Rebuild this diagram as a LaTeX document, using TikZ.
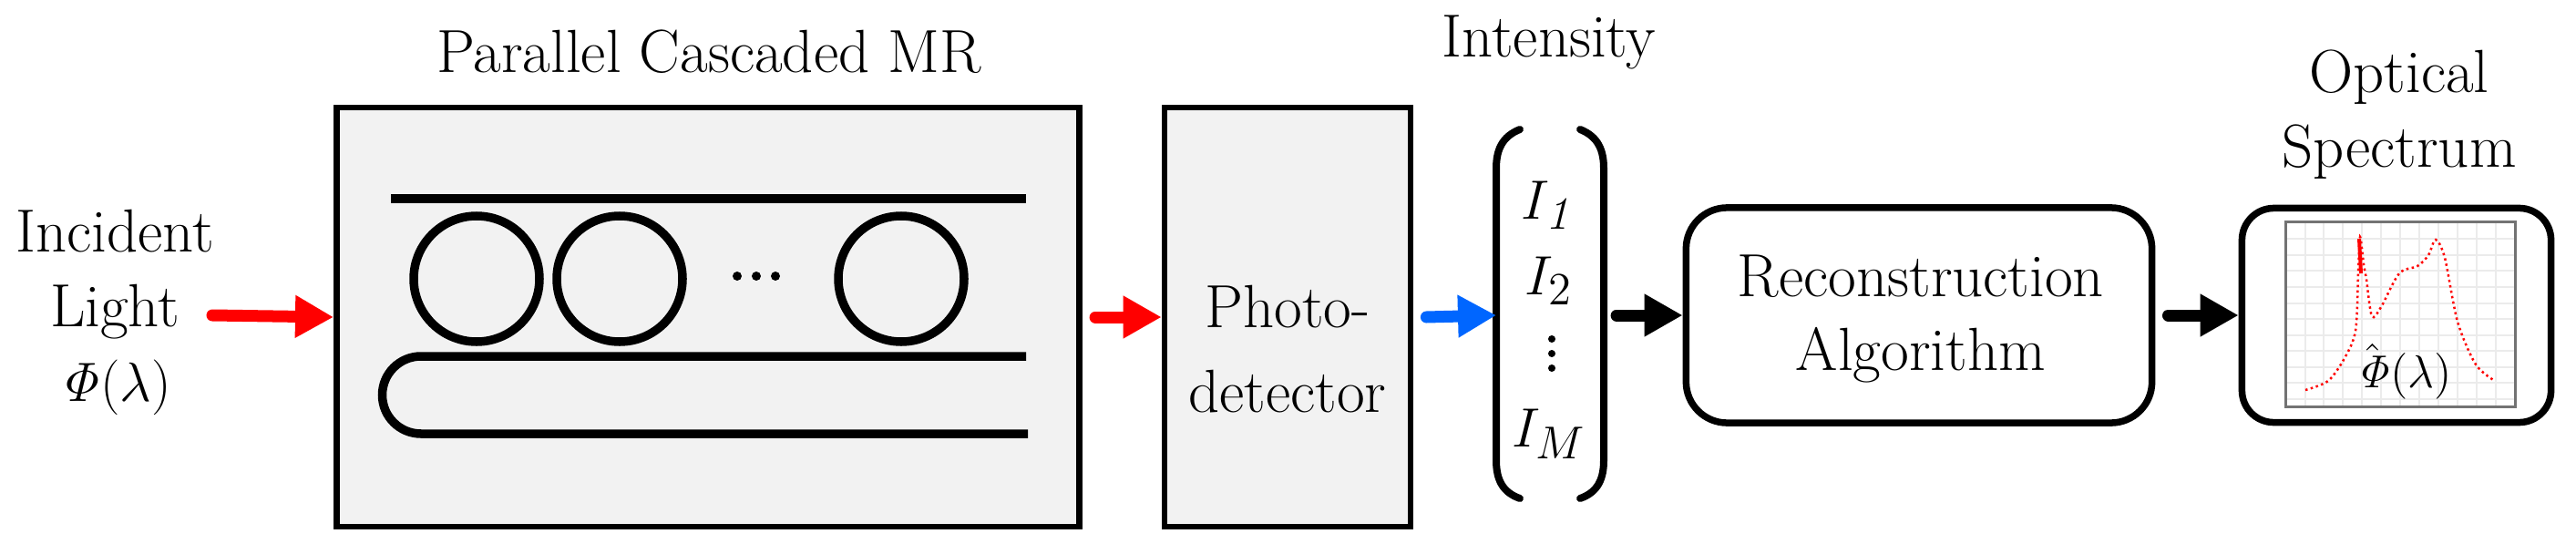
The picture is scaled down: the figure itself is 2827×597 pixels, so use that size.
\documentclass[tikz,border=0pt]{standalone}
\usetikzlibrary{arrows.meta}
\definecolor{boxgray}{RGB}{242,242,242}
\definecolor{myblue}{RGB}{0,102,255}
\begin{document}
\begin{tikzpicture}[x=0.01cm,y=-0.01cm,
  txt/.style={font=\fontsize{19}{23}\selectfont,inner sep=0pt,align=center},
  gbox/.style={draw,line width=0.065cm,fill=boxgray,inner sep=0pt},
  rbox/.style={draw,line width=0.075cm,rounded corners=0.45cm,inner sep=0pt},
  wg/.style={line width=0.095cm},
  arr/.style={line width=0.13cm,line cap=round,-{Triangle[length=0.42cm,width=0.44cm]}}]
\useasboundingbox (0,0) rectangle (2827,597);
% boxes
\node[gbox,minimum width=8.15cm,minimum height=4.6cm] (mr) at (777,348) {};
\node[gbox,minimum width=2.7cm,minimum height=4.6cm] (pd) at (1413,348) {};
\node[rbox,minimum width=5.11cm,minimum height=2.36cm] (rec) at (2106,346) {};
\node[rbox,minimum width=3.39cm,minimum height=2.35cm,rounded corners=0.35cm] (spec) at (2630,346) {};
% texts
\node[txt,font=\fontsize{19}{23.3}\selectfont,anchor=base] (inc) at (126,440) {Incident\\Light\\$\mathit{\Phi}(\lambda)$};
\node[txt,anchor=base] (ttl) at (778,80) {Parallel Cascaded MR};
\node[txt,font=\fontsize{19}{26.4}\selectfont,anchor=base] (pdt) at (1413,452) {Photo-\\detector};
\node[txt,anchor=base] (int) at (1700,62) {Intensity};
\node[txt,anchor=base] (rect) at (2108,406) {Reconstruction\\Algorithm};
\node[txt,font=\fontsize{19}{23.3}\selectfont,anchor=base] (ost) at (2633,183) {Optical\\Spectrum};
% waveguides
\draw[wg] (429,218) -- (1126,218);
\draw[wg] (1126,391) -- (462,391) arc[start angle=-90,end angle=-270,radius=42.5] -- (1128,476);
\draw[wg] (523,306) circle[radius=69];
\draw[wg] (680,306) circle[radius=69];
\draw[wg] (989,306) circle[radius=69];
\foreach \x in {809,830,851} \fill (\x,303) circle[radius=5];
% intensity vector
\node[txt,anchor=base] (i1) at (1700,240) {$I_{\mathit{1}}$};
\node[txt,anchor=base] (i2) at (1700,323) {$I_2$};
\foreach \y in {372,388,404} \fill (1703,\y) circle[radius=4];
\node[txt,anchor=base] (im) at (1700,490) {$I_M$};
\coordinate (bl) at (1642,346);
\coordinate (br) at (1760,346);
\draw[line width=0.08cm,line cap=round] (1668,142) .. controls (1648,150) and (1642,165) .. (1642,185) -- (1642,505) .. controls (1642,525) and (1648,540) .. (1668,547);
\draw[line width=0.08cm,line cap=round] (1734,142) .. controls (1754,150) and (1760,165) .. (1760,185) -- (1760,505) .. controls (1760,525) and (1754,540) .. (1734,547);
% spectrum plot
\begin{scope}
\fill[white] (2508,243) rectangle (2760,446);
\foreach \x in {2530,2550,2571,2592,2613,2634,2655,2676,2697,2718,2739} \draw[black!8,line width=0.02cm] (\x,243) -- (\x,446);
\foreach \y in {262,280,297,315,333,350,368,385,403,420,438} \draw[black!8,line width=0.02cm] (2508,\y) -- (2760,\y);
\draw[black!55,line width=0.03cm] (2508,243) rectangle (2760,446);
\draw[red,line width=0.025cm,densely dotted] plot[smooth,tension=0.5] coordinates {(2530,428) (2555,418) (2573,393) (2585,363) (2588,300) (2590,260) (2594,290) (2597,307) (2603,347) (2613,337) (2633,300) (2653,292) (2665,280) (2673,263) (2683,283) (2697,353) (2717,400) (2738,418)};
\draw[red,line width=0.04cm] (2589,262) -- (2591,300);
\end{scope}
\node[font=\fontsize{14}{16}\selectfont,inner sep=0pt,anchor=base] (phihat) at (2638,425) {$\hat{\mathit{\Phi}}(\lambda)$};
% arrows
\coordinate (a0) at (233,346);
\draw[arr,red] (a0) -- (mr.west);
\draw[arr,red] ([xshift=4pt]mr.east) -- (pd.west);
\draw[arr,myblue] ([xshift=4pt]pd.east) -- (bl);
\draw[arr,black] ([xshift=4pt]br) -- (rec.west);
\draw[arr,black] ([xshift=4pt]rec.east) -- (spec.west);
\end{tikzpicture}
\end{document}
